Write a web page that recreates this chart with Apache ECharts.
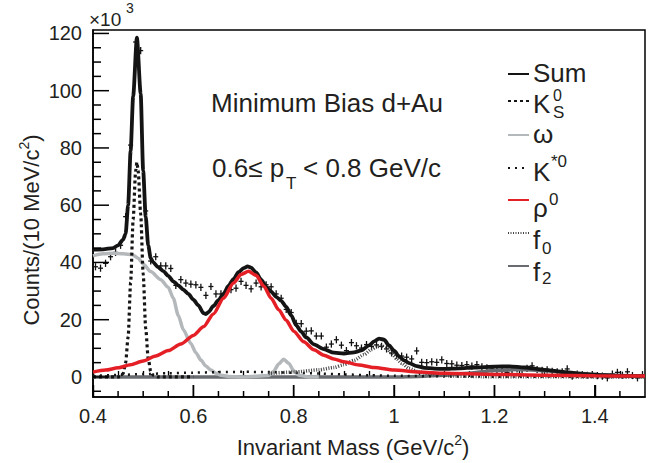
<!DOCTYPE html>
<html><head><meta charset="utf-8">
<script src="https://cdn.jsdelivr.net/npm/echarts@6/dist/echarts.min.js"></script>
<style>html,body{margin:0;padding:0;background:#fff}#c{width:663px;height:463px}</style>
</head><body><div id="c"></div>
<script>
const massBins = [
 0.405,0.415,0.425,0.435,0.445,0.455,0.465,0.475,0.485,0.495,
 0.505,0.515,0.525,0.535,0.545,0.555,0.565,0.575,0.585,0.595,
 0.605,0.615,0.625,0.635,0.645,0.655,0.665,0.675,0.685,0.695,
 0.705,0.715,0.725,0.735,0.745,0.755,0.765,0.775,0.785,0.795,
 0.805,0.815,0.825,0.835,0.845,0.855,0.865,0.875,0.885,0.895,
 0.905,0.915,0.925,0.935,0.945,0.955,0.965,0.975,0.985,0.995,
 1.005,1.015,1.025,1.035,1.045,1.055,1.065,1.075,1.085,1.095,
 1.105,1.115,1.125,1.135,1.145,1.155,1.165,1.175,1.185,1.195,
 1.205,1.215,1.225,1.235,1.245,1.255,1.265,1.275,1.285,1.295,
 1.305,1.315,1.325,1.335,1.345,1.355,1.365,1.375,1.385,1.395,
 1.405,1.415,1.425,1.435,1.445,1.455,1.465,1.475,1.485,1.495];
const counts = [
 38.5,38,39.7,42,43.5,46,56,81,117,114,
 58,40.5,42,38.8,38.8,37.9,32,34,32.8,32.4,
 32.2,31.3,28.5,31.6,29,29,29.5,30.5,31,33.4,
 32,30.8,32.8,31.5,32.2,31.5,29,27.5,23.6,22.5,
 18.7,18.6,16,16.1,14.3,14.3,10.4,11.5,13,11.1,
 9.2,12,10.9,10.1,11.3,10.7,11.2,10.7,9.8,8.4,
 7.6,7.3,6.9,6.3,9.1,5.1,5.0,5.3,5.1,6.0,
 4.7,4.6,4.1,4.0,4.3,3.8,4.3,3.5,3.2,2.8,
 2.5,2.2,1.6,2.4,2.8,2.6,3.0,3.9,2.6,2.3,
 2.5,2.0,1.8,1.8,2.8,0.3,1.0,0.8,0.6,0.8,
 0.5,0.3,-0.3,1.0,1.6,0.6,1.8,0.5,-0.3,0.8];

const sumCurve = [
 [0.400,44.5],[0.420,44.6],[0.440,45],[0.450,46],[0.460,48],[0.465,50],[0.470,60],[0.475,79],
 [0.480,98],[0.4875,118.5],[0.495,99],[0.500,72],[0.505,56],[0.510,46],[0.515,41.5],[0.520,40],
 [0.530,38.3],[0.540,37],[0.550,35.3],[0.560,33.4],[0.570,32],[0.580,30.5],[0.590,29],[0.600,27],
 [0.610,25],[0.620,22.3],[0.625,22],[0.630,22.6],[0.640,24.8],[0.650,26.8],[0.660,29],[0.670,31.8],
 [0.680,34.2],[0.690,36.6],[0.700,38],[0.708,38.6],[0.715,38.2],[0.725,36.5],[0.735,34],[0.745,31.5],
 [0.755,29.8],[0.765,28],[0.775,26.6],[0.785,24.5],[0.795,21.5],[0.805,18],[0.815,15.8],[0.825,13.8],
 [0.840,11.4],[0.860,9.7],[0.880,8.5],[0.900,8.2],[0.920,8.6],[0.935,9.3],[0.950,11],[0.960,12.4],
 [0.970,13.4],[0.980,13],[0.990,11],[1.000,9.2],[1.010,7.2],[1.020,5.8],[1.030,4.8],[1.045,3.8],
 [1.060,3.2],[1.080,2.9],[1.100,2.8],[1.130,3.0],[1.160,3.3],[1.200,3.6],[1.230,3.7],[1.260,3.3],
 [1.300,2.5],[1.340,1.7],[1.380,1.0],[1.420,0.6],[1.460,0.4],[1.500,0.3]];
const ksCurve = [
 [0.400,0],[0.450,0],[0.455,0.2],[0.460,1.2],[0.465,5],[0.470,14],[0.475,33],[0.480,55],[0.485,72],
 [0.4875,75],[0.490,72],[0.495,57],[0.500,36],[0.505,17],[0.510,6.5],[0.515,2],[0.520,0.6],[0.530,0],[0.600,0]];
const omegaCurve = [
 [0.400,42.3],[0.420,43],[0.440,43.2],[0.460,43],[0.478,42.7],[0.490,41.5],[0.500,39.5],[0.515,36.8],
 [0.535,34],[0.550,31.3],[0.560,27.5],[0.570,21.5],[0.580,16.5],[0.595,11.7],[0.605,8.5],[0.615,5.9],
 [0.625,3.8],[0.635,2.4],[0.645,1.3],[0.655,0.6],[0.670,0.2],[0.700,0],[0.750,0.5],[0.760,2],
 [0.770,4.5],[0.780,6.2],[0.790,4.8],[0.800,2.2],[0.810,0.6],[0.830,0],[0.850,0]];
const kstarCurve = [
 [0.40,0.4],[0.45,0.7],[0.50,1.0],[0.55,1.3],[0.60,1.5],[0.65,1.7],[0.70,1.8],[0.75,1.7],[0.80,1.5],
 [0.85,1.2],[0.90,0.9],[0.95,0.6],[1.00,0.4],[1.10,0.2],[1.20,0.1],[1.50,0]];
const rhoCurve = [
 [0.400,1.7],[0.425,2.4],[0.450,3.2],[0.475,4.3],[0.500,5.6],[0.525,7.3],[0.550,9.2],[0.575,11.5],
 [0.600,14.5],[0.620,17.5],[0.640,22],[0.660,27.5],[0.680,32.8],[0.695,35.8],[0.710,36.9],[0.725,35.5],
 [0.740,31.8],[0.755,27.5],[0.770,23.5],[0.785,19.8],[0.800,16],[0.820,12.3],[0.840,9.5],[0.860,7.6],
 [0.880,6.3],[0.900,5.3],[0.930,4.2],[0.960,3.3],[1.000,2.4],[1.050,1.7],[1.100,1.3],[1.200,0.9],
 [1.300,0.6],[1.400,0.4],[1.500,0.3]];
const f0Curve = [
 [0.75,1.2],[0.80,1.7],[0.85,2.5],[0.88,3.3],[0.90,4.3],[0.92,5.8],[0.94,7.8],[0.955,9.6],[0.965,10.6],
 [0.975,10.9],[0.985,10.1],[0.995,8.3],[1.005,6.4],[1.015,4.8],[1.03,3.0],[1.05,1.7],[1.08,0.8],
 [1.12,0.3],[1.20,0.05],[1.50,0]];
const f2Curve = [
 [0.40,0],[1.00,0],[1.05,0.2],[1.10,0.6],[1.15,1.3],[1.20,2.3],[1.25,2.6],[1.30,2.2],[1.35,1.5],
 [1.40,0.9],[1.45,0.5],[1.50,0.3]];

const xMajorTicks = [0.4,0.6,0.8,1.0,1.2,1.4];
const xMinorTicks = [0.45,0.5,0.55,0.65,0.7,0.75,0.85,0.9,0.95,1.05,1.1,1.15,1.25,1.3,1.35,1.45];
const yMajorTicks = [0,20,40,60,80,100,120];
const yMinorTicks = [-5,5,10,15,25,30,35,45,50,55,65,70,75,85,90,95,105,110,115];

const X_MIN = 0.4, X_MAX = 1.5, Y_MIN = -7, Y_MAX = 121.2;
const FONT = '"Liberation Sans", Arial, Helvetica, sans-serif';
const TXT = '#231f20';
const AX = '#000';

// tick table: [x, y, length(px), vertical?1:0]
const tickRows = [].concat(
  yMajorTicks.map(v => [X_MIN, v, 16, 0]),
  yMinorTicks.map(v => [X_MIN, v, 8, 0]),
  xMajorTicks.map(v => [v, Y_MIN, 12, 1]),
  xMinorTicks.map(v => [v, Y_MIN, 6, 1])
);

const chart = echarts.init(document.getElementById('c'), null, {renderer: 'svg'});

function lineSeries(name, data, color, width, type, z) {
  return {
    name, type: 'line', data, symbol: 'none', smooth: 0.25, smoothMonotone: 'x',
    xAxisIndex: 0, yAxisIndex: 0, z,
    lineStyle: {color, width, type, cap: 'butt'}, itemStyle: {color},
    emphasis: {disabled: true}, silent: true, animation: false
  };
}

const legendRows = [
  ['Sum', 74], ['K_S^0', 101], ['ω', 135], ['K*0', 168], ['ρ0', 200], ['f0', 233], ['f2', 266]
];

function t(text, x, y, size) {
  return {type: 'text', x, y, silent: true,
    style: {text, fill: TXT, font: size + 'px ' + FONT, align: 'left', verticalAlign: 'middle'}};
}

const nameRich = {
  a: {fontSize: 22, fontFamily: FONT, color: TXT, lineHeight: 28},
  s: {fontSize: 14, fontFamily: FONT, color: TXT, verticalAlign: 'top', lineHeight: 16}
};

const option = {
  animation: false,
  backgroundColor: '#fff',
  grid: {left: 93, right: 18, top: 30, bottom: 59, show: true, borderColor: AX, borderWidth: 1.5, containLabel: false},
  xAxis: [{
    type: 'value', min: X_MIN, max: X_MAX, position: 'bottom',
    axisLine: {show: true, onZero: false, lineStyle: {color: AX, width: 1.5}},
    axisTick: {show: true, inside: true, length: 12, customValues: xMajorTicks, lineStyle: {color: AX, width: 1.4}},
    axisLabel: {customValues: xMajorTicks, fontSize: 20, color: TXT, fontFamily: FONT, margin: 9},
    splitLine: {show: false},
    name: '{a|Invariant Mass (GeV/c}{s|2}{a|)}', nameLocation: 'middle', nameGap: 36,
    nameTextStyle: {color: TXT, padding: [0, 32, 0, 0], rich: nameRich}
  }, {
    type: 'value', min: X_MIN, max: X_MAX, position: 'bottom',
    axisLine: {show: false},
    axisTick: {show: true, inside: true, length: 6, customValues: xMinorTicks, lineStyle: {color: AX, width: 1.3}},
    axisLabel: {show: false}, splitLine: {show: false}
  }],
  yAxis: {
    type: 'value', min: Y_MIN, max: Y_MAX, position: 'left',
    axisLine: {show: true, onZero: false, lineStyle: {color: AX, width: 1.5}},
    axisTick: {show: false},
    axisLabel: {customValues: yMajorTicks, fontSize: 20, color: TXT, fontFamily: FONT, margin: 11},
    splitLine: {show: false}
  },
  legend: legendRows.map(([name, y]) => ({
    data: [name], left: 507, top: y - 7, itemWidth: 21, itemHeight: 14, padding: 0,
    formatter: () => '', selectedMode: false, itemStyle: {opacity: 0},
    textStyle: {fontSize: 1}
  })),
  series: [
    {
      name: 'data', type: 'custom', xAxisIndex: 0, yAxisIndex: 0, z: 2, silent: true,
      data: massBins.map((m, i) => [m, counts[i]]),
      renderItem: (params, api) => {
        const p = api.coord([api.value(0), api.value(1)]);
        return {type: 'group', children: [
          {type: 'line', shape: {x1: p[0], y1: p[1] - 3.6, x2: p[0], y2: p[1] + 3.6}, style: {stroke: '#111', lineWidth: 1.3}},
          {type: 'line', shape: {x1: p[0] - 2.5, y1: p[1], x2: p[0] + 2.5, y2: p[1]}, style: {stroke: '#111', lineWidth: 1.3}}
        ]};
      }
    },
    lineSeries('f2', f2Curve, '#686b6f', 3.5, 'solid', 3),
    lineSeries('Sum', sumCurve, '#141414', 3.8, 'solid', 4),
    lineSeries('ω', omegaCurve, '#b4b8bb', 3.5, 'solid', 5),
    lineSeries('K*0', kstarCurve, '#141414', 2.5, [2, 5], 6),
    lineSeries('f0', f0Curve, '#444', 3.5, [1, 1.5], 7),
    lineSeries('K_S^0', ksCurve, '#141414', 3.2, [3, 3], 8),
    lineSeries('ρ0', rhoCurve, '#e41f26', 3.5, 'solid', 9),
    {
      name: 'ticks', type: 'custom', xAxisIndex: 0, yAxisIndex: 0, z: 12, silent: true,
      data: tickRows,
      renderItem: (params, api) => {
        const p = api.coord([api.value(0), api.value(1)]);
        const len = api.value(2);
        const vert = api.value(3) === 1;
        return {type: 'group', children: [{
          type: 'line',
          shape: vert ? {x1: p[0], y1: p[1], x2: p[0], y2: p[1] - len}
                      : {x1: p[0], y1: p[1], x2: p[0] + len, y2: p[1]},
          style: {stroke: AX, lineWidth: 1.5}
        }]};
      }
    }
  ],
  graphic: [
    {type: 'text', x: 31, y: 230, rotation: Math.PI / 2, silent: true,
      style: {text: '{a|Counts/(10 MeV/c}{s|2}{a|)}', rich: nameRich, fill: TXT,
        align: 'center', verticalAlign: 'middle'}},
    t('×10', 89, 19, 19), t('3', 126, 8, 14),
    t('Minimum Bias d+Au', 211, 103, 26),
    t('0.6≤ p', 212, 168, 26), t('T', 286, 183, 17), t('< 0.8 GeV/c', 303, 168, 26),
    t('Sum', 533, 72.5, 26),
    t('K', 533, 103.5, 26), t('0', 553, 95, 16), t('S', 553, 112, 17),
    t('ω', 533, 134, 26),
    t('K', 533, 171.5, 26), t('*0', 551, 161, 17),
    t('ρ', 533, 208, 26), t('0', 549, 199, 17),
    t('f', 533, 239.5, 26), t('0', 542, 248, 17),
    t('f', 533, 271.5, 26), t('2', 542, 278, 17)
  ]
};
chart.setOption(option);
</script></body></html>
